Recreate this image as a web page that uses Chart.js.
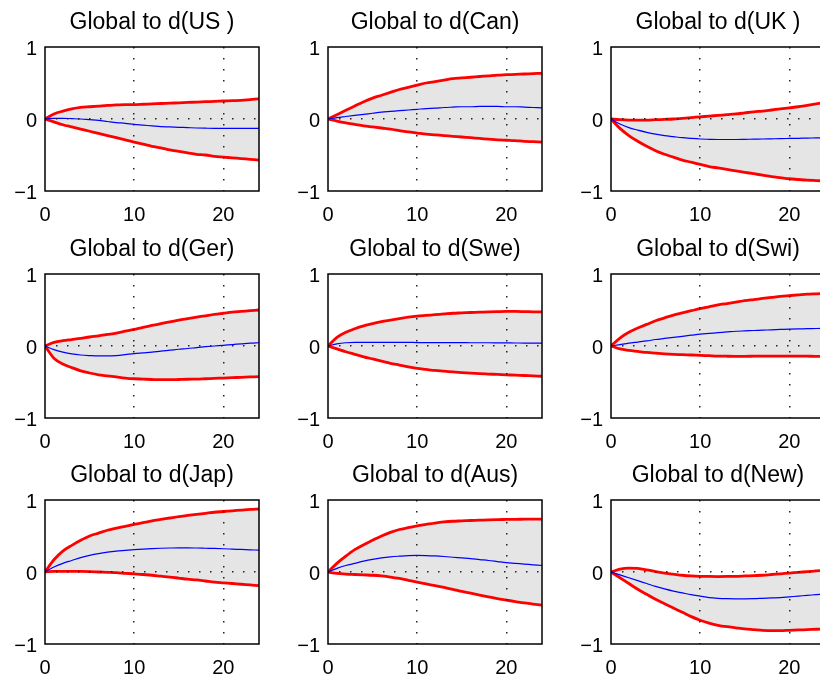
<!DOCTYPE html>
<html>
<head>
<meta charset="utf-8">
<script src="https://cdn.jsdelivr.net/npm/chart.js@4/dist/chart.umd.min.js"></script>
<style>
  html, body { margin: 0; background: #fff; }
  body { width: 820px; height: 682px; position: relative; overflow: hidden; }
  canvas { position: absolute; }
</style>
</head>
<body>
<script>
const horizon = [0, 1, 2, 3, 4, 5, 6, 7, 8, 9, 10, 11, 12, 13, 14, 15, 16, 17, 18, 19, 20, 21, 22, 23, 24];
const xTicks = [0, 10, 20];
const yTicks = [-1, 0, 1];
const titles = [
  'Global to d(US )', 'Global to d(Can)', 'Global to d(UK )',
  'Global to d(Ger)', 'Global to d(Swe)', 'Global to d(Swi)',
  'Global to d(Jap)', 'Global to d(Aus)', 'Global to d(New)',
];

// upper band / median / lower band per country
const usHi = [0, .07, .11, .14, .16, .17, .18, .19, .195, .2, .2, .205, .21, .215, .22, .225, .23, .235, .24, .245, .25, .255, .26, .27, .28];
const usMid = [0, .01, .01, .005, 0, -.01, -.02, -.035, -.05, -.06, -.075, -.085, -.095, -.105, -.11, -.115, -.12, -.125, -.128, -.13, -.13, -.13, -.13, -.13, -.13];
const usLo = [0, -.04, -.08, -.11, -.14, -.17, -.2, -.23, -.26, -.29, -.32, -.35, -.38, -.4, -.43, -.45, -.47, -.49, -.5, -.52, -.53, -.54, -.55, -.56, -.57];

const canHi = [0, .06, .12, .18, .24, .29, .33, .37, .41, .44, .47, .5, .52, .54, .56, .57, .58, .59, .6, .61, .615, .62, .625, .63, .635];
const canMid = [0, .02, .035, .05, .065, .08, .095, .105, .115, .125, .135, .145, .15, .16, .165, .17, .17, .175, .175, .175, .17, .17, .165, .16, .155];
const canLo = [0, -.03, -.055, -.075, -.095, -.11, -.125, -.14, -.16, -.18, -.195, -.21, -.22, -.23, -.24, -.25, -.26, -.27, -.28, -.29, -.295, -.3, -.31, -.315, -.32];

const ukHi = [0, -.01, -.015, -.015, -.015, -.01, -.005, 0, .01, .02, .03, .04, .05, .06, .07, .085, .1, .11, .125, .14, .155, .17, .19, .21, .23];
const ukMid = [0, -.07, -.12, -.155, -.185, -.21, -.23, -.245, -.26, -.27, -.278, -.282, -.285, -.285, -.285, -.283, -.28, -.278, -.275, -.272, -.27, -.268, -.265, -.263, -.26];
const ukLo = [0, -.13, -.23, -.31, -.38, -.44, -.49, -.53, -.57, -.6, -.63, -.66, -.68, -.7, -.72, -.74, -.76, -.78, -.8, -.815, -.83, -.84, -.85, -.855, -.86];

const gerHi = [0, .05, .075, .09, .105, .125, .14, .16, .18, .205, .23, .26, .285, .31, .335, .36, .38, .4, .42, .44, .455, .47, .48, .49, .5];
const gerMid = [0, -.05, -.085, -.11, -.125, -.133, -.138, -.138, -.133, -.12, -.105, -.095, -.085, -.07, -.058, -.045, -.035, -.022, -.01, 0, .01, .02, .03, .04, .045];
const gerLo = [0, -.17, -.25, -.3, -.345, -.375, -.4, -.415, -.43, -.445, -.455, -.46, -.465, -.468, -.468, -.465, -.462, -.46, -.455, -.45, -.445, -.44, -.435, -.43, -.425];

const sweHi = [0, .12, .19, .24, .28, .31, .34, .36, .38, .4, .415, .425, .435, .445, .455, .46, .465, .47, .475, .478, .48, .48, .478, .475, .473];
const sweMid = [0, .03, .045, .05, .05, .05, .05, .05, .05, .05, .048, .048, .047, .047, .046, .046, .045, .045, .045, .044, .043, .042, .041, .04, .04];
const sweLo = [0, -.04, -.08, -.115, -.15, -.18, -.21, -.24, -.265, -.29, -.31, -.325, -.34, -.35, -.36, -.37, -.378, -.385, -.39, -.395, -.4, -.405, -.41, -.415, -.42];

const swiHi = [0, .11, .19, .25, .3, .35, .39, .43, .46, .49, .52, .545, .57, .59, .61, .63, .645, .66, .675, .69, .7, .71, .72, .725, .73];
const swiMid = [0, .02, .04, .055, .07, .09, .105, .12, .135, .15, .165, .175, .185, .195, .205, .21, .215, .22, .225, .23, .235, .238, .24, .243, .245];
const swiLo = [0, -.04, -.06, -.075, -.09, -.1, -.108, -.115, -.12, -.125, -.13, -.135, -.14, -.142, -.143, -.143, -.142, -.141, -.14, -.14, -.14, -.141, -.142, -.143, -.145];

const japHi = [0, .17, .29, .37, .44, .5, .54, .58, .61, .635, .66, .685, .71, .73, .75, .77, .785, .8, .815, .83, .84, .85, .86, .87, .875];
const japMid = [0, .07, .12, .16, .2, .23, .255, .275, .29, .3, .31, .318, .325, .33, .333, .335, .335, .333, .33, .327, .323, .318, .313, .308, .303];
const japLo = [0, .01, .01, .01, .008, .005, 0, -.005, -.01, -.018, -.025, -.035, -.045, -.058, -.07, -.085, -.1, -.11, -.125, -.14, -.15, -.16, -.17, -.18, -.19];

const ausHi = [0, .12, .22, .31, .38, .44, .5, .55, .59, .615, .64, .66, .68, .695, .705, .71, .715, .72, .725, .728, .73, .732, .733, .734, .735];
const ausMid = [0, .05, .09, .12, .15, .175, .195, .21, .22, .228, .23, .228, .223, .215, .205, .195, .185, .172, .16, .145, .13, .12, .11, .1, .09];
const ausLo = [0, -.02, -.03, -.035, -.04, -.045, -.055, -.07, -.09, -.115, -.14, -.165, -.19, -.215, -.24, -.27, -.295, -.32, -.345, -.37, -.39, -.41, -.43, -.445, -.46];

const newHi = [0, .04, .055, .05, .03, .005, -.015, -.03, -.045, -.055, -.06, -.062, -.063, -.062, -.06, -.055, -.05, -.045, -.035, -.025, -.015, -.005, .005, .015, .025];
const newMid = [0, -.04, -.08, -.12, -.16, -.2, -.235, -.265, -.29, -.315, -.335, -.355, -.365, -.37, -.372, -.372, -.37, -.365, -.36, -.355, -.345, -.335, -.325, -.315, -.305];
const newLo = [0, -.08, -.16, -.24, -.31, -.38, -.44, -.5, -.56, -.62, -.67, -.71, -.74, -.76, -.775, -.79, -.8, -.81, -.815, -.815, -.81, -.805, -.8, -.795, -.79];

const bands = [
  [usHi, usMid, usLo], [canHi, canMid, canLo], [ukHi, ukMid, ukLo],
  [gerHi, gerMid, gerLo], [sweHi, sweMid, sweLo], [swiHi, swiMid, swiLo],
  [japHi, japMid, japLo], [ausHi, ausMid, ausLo], [newHi, newMid, newLo],
];

// layout of the 3x3 grid (plot area corners, px)
const colLeft = [45, 328, 611];
const rowTop = [47, 274, 500];
const PLOT_W = 214, PLOT_H = 144;
const AXIS_W = 45, TITLE_H = 47, AXIS_H = 40, PAD_R = 16;

const FONT = '"Liberation Sans", Arial, Helvetica, sans-serif';
const tickFont = { family: FONT, size: 20 };

const frame = {
  id: 'frame',
  afterDraw(chart) {
    const { ctx, chartArea: a } = chart;
    ctx.save();
    ctx.strokeStyle = '#000';
    ctx.lineWidth = 1.5;
    ctx.strokeRect(a.left, a.top, a.right - a.left, a.bottom - a.top);
    ctx.restore();
  },
};

const pts = arr => horizon.map((h, k) => ({ x: h, y: arr[k] }));
const hideAt = values => c => (c.tick && values.includes(c.tick.value) ? 'rgba(0,0,0,0)' : '#222');

function makePanel(i) {
  const [hi, mid, lo] = bands[i];
  const canvas = document.createElement('canvas');
  canvas.width = AXIS_W + PLOT_W + PAD_R;
  canvas.height = TITLE_H + PLOT_H + AXIS_H;
  canvas.style.left = (colLeft[i % 3] - AXIS_W) + 'px';
  canvas.style.top = (rowTop[Math.floor(i / 3)] - TITLE_H) + 'px';
  document.body.appendChild(canvas);

  new Chart(canvas, {
    type: 'line',
    data: {
      datasets: [
        { data: pts(mid), borderColor: '#0000ff', borderWidth: 1.2 },
        { data: pts(hi), borderColor: '#ff0000', borderWidth: 2.8 },
        { data: pts(lo), borderColor: '#ff0000', borderWidth: 2.8, fill: '-1', backgroundColor: '#e5e5e5' },
      ],
    },
    options: {
      responsive: false,
      animation: false,
      layout: { padding: { left: 0, top: 0, right: PAD_R, bottom: 0 } },
      elements: { point: { radius: 0 }, line: { cubicInterpolationMode: 'monotone' } },
      plugins: {
        legend: { display: false },
        tooltip: { enabled: false },
        filler: { drawTime: 'beforeDatasetsDraw' },
        title: {
          display: true, text: titles[i], fullSize: false, color: '#000',
          font: { family: FONT, size: 23, weight: 'normal' },
          padding: { top: 9.2, bottom: 10.2 },
        },
      },
      scales: {
        x: {
          type: 'linear', min: 0, max: 24,
          afterBuildTicks: s => { s.ticks = xTicks.map(v => ({ value: v })); },
          afterFit: s => { s.height = AXIS_H; },
          grid: { z: 1, drawTicks: false, lineWidth: 1.5, color: hideAt([0]) },
          border: { display: false, dash: [1.5, 9.5] },
          ticks: { padding: 12, color: '#000', font: tickFont, maxRotation: 0, autoSkip: false },
        },
        y: {
          type: 'linear', min: -1, max: 1,
          afterBuildTicks: s => { s.ticks = yTicks.map(v => ({ value: v })); },
          afterFit: s => { s.width = AXIS_W; },
          grid: { z: 1, drawTicks: false, lineWidth: 1.5, color: hideAt([-1, 1]) },
          border: { display: false, dash: [1.5, 9.5] },
          ticks: {
            padding: 8, labelOffset: 2, color: '#000', font: tickFont, autoSkip: false,
            callback: v => (v < 0 ? '\u2212' + Math.abs(v) : String(v)),
          },
        },
      },
    },
    plugins: [frame],
  });
}

titles.forEach((t, i) => makePanel(i));
</script>
</body>
</html>
